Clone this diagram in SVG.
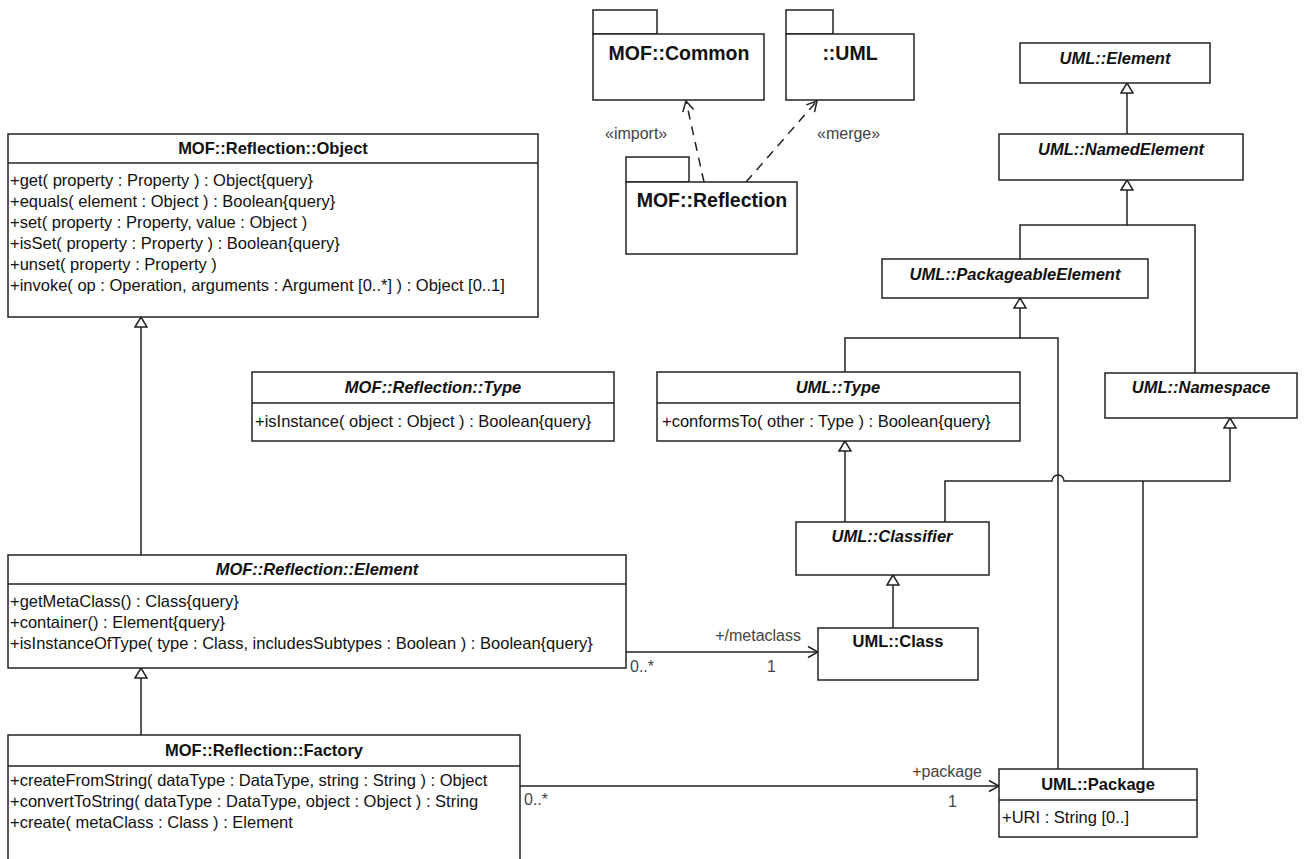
<svg xmlns="http://www.w3.org/2000/svg" width="1305" height="859" viewBox="0 0 1305 859">
<style>
.box{fill:#fff;stroke:#222;stroke-width:1.5}
.t{font-family:"Liberation Sans",Arial,sans-serif;font-size:16.5px;fill:#111}
.ti{font-weight:bold;text-anchor:middle}
.pk{font-family:"Liberation Sans",Arial,sans-serif;font-size:19.5px;font-weight:bold;text-anchor:middle;fill:#111}
.it{font-style:italic}
.lbl{font-family:"Liberation Sans",Arial,sans-serif;font-size:16px;fill:#444}
.conn{fill:none;stroke:#222;stroke-width:1.5}
.dash{stroke-dasharray:9 7}
</style>
<defs>
<marker id="gen" viewBox="0 0 12 14" refX="11" refY="7" markerWidth="12" markerHeight="14" markerUnits="userSpaceOnUse" orient="auto"><path d="M1,1 L11,7 L1,13 Z" fill="#fff" stroke="#222" stroke-width="1.5"/></marker>
<marker id="open" viewBox="0 0 14 14" refX="13" refY="7" markerWidth="14" markerHeight="14" markerUnits="userSpaceOnUse" orient="auto"><path d="M3,1.5 L13,7 L3,12.5" fill="none" stroke="#222" stroke-width="1.5"/></marker>
</defs>

<g id="connectors">
<path class="conn dash" d="M704,182 L686,101" marker-end="url(#open)"/>
<path class="conn dash" d="M746,182 L817,101" marker-end="url(#open)"/>
<path class="conn" d="M1127,134 V83" marker-end="url(#gen)"/>
<path class="conn" d="M1020,259 V225 H1127 V180" marker-end="url(#gen)"/>
<path class="conn" d="M1195,373 V225 H1127"/>
<path class="conn" d="M845,372 V338 H1020 V298" marker-end="url(#gen)"/>
<path class="conn" d="M1058,769 V338 H1020"/>
<path class="conn" d="M845,522 V441" marker-end="url(#gen)"/>
<path class="conn" d="M945,522 V481 H1052 A6,6 0 0 1 1064,481 H1230 V418" marker-end="url(#gen)"/>
<path class="conn" d="M1143,769 V481"/>
<path class="conn" d="M893,628 V575" marker-end="url(#gen)"/>
<path class="conn" d="M141,555 V317" marker-end="url(#gen)"/>
<path class="conn" d="M141,735 V668" marker-end="url(#gen)"/>
<path class="conn" d="M626,652 H818" marker-end="url(#open)"/>
<path class="conn" d="M520,786 H999" marker-end="url(#open)"/>
<text class="lbl" x="605" y="139">«import»</text>
<text class="lbl" x="817" y="139">«merge»</text>
<text class="lbl" x="801" y="641" text-anchor="end">+/metaclass</text>
<text class="lbl" x="767" y="672">1</text>
<text class="lbl" x="630" y="672">0..*</text>
<text class="lbl" x="982" y="777" text-anchor="end">+package</text>
<text class="lbl" x="948" y="807">1</text>
<text class="lbl" x="524" y="805">0..*</text>
</g>

<g id="pkg-common">
<rect class="box" x="593" y="10" width="64" height="24"/>
<rect class="box" x="593" y="34" width="171" height="66"/>
<text class="pk" x="679" y="60">MOF::Common</text>
</g>
<g id="pkg-uml">
<rect class="box" x="786" y="10" width="47" height="24"/>
<rect class="box" x="786" y="34" width="128" height="66"/>
<text class="pk" x="850" y="60">::UML</text>
</g>
<g id="pkg-reflection">
<rect class="box" x="626" y="157" width="63" height="25"/>
<rect class="box" x="626" y="182" width="171" height="72"/>
<text class="pk" x="712" y="207">MOF::Reflection</text>
</g>

<g id="object">
<rect class="box" x="8" y="134" width="530" height="183"/>
<line class="conn" x1="8" y1="163" x2="538" y2="163"/>
<text class="t ti" x="273" y="154">MOF::Reflection::Object</text>
<text class="t" x="10" y="186">+get( property : Property ) : Object{query}</text>
<text class="t" x="10" y="207">+equals( element : Object ) : Boolean{query}</text>
<text class="t" x="10" y="228">+set( property : Property, value : Object )</text>
<text class="t" x="10" y="249">+isSet( property : Property ) : Boolean{query}</text>
<text class="t" x="10" y="270">+unset( property : Property )</text>
<text class="t" x="10" y="291">+invoke( op : Operation, arguments : Argument [0..*] ) : Object [0..1]</text>
</g>

<g id="type">
<rect class="box" x="252" y="372" width="362" height="69"/>
<line class="conn" x1="252" y1="403" x2="614" y2="403"/>
<text class="t ti it" x="433" y="393">MOF::Reflection::Type</text>
<text class="t" x="255" y="427">+isInstance( object : Object ) : Boolean{query}</text>
</g>

<g id="element">
<rect class="box" x="8" y="555" width="618" height="113"/>
<line class="conn" x1="8" y1="584" x2="626" y2="584"/>
<text class="t ti it" x="317" y="575">MOF::Reflection::Element</text>
<text class="t" x="10" y="607">+getMetaClass() : Class{query}</text>
<text class="t" x="10" y="628">+container() : Element{query}</text>
<text class="t" x="10" y="649">+isInstanceOfType( type : Class, includesSubtypes : Boolean ) : Boolean{query}</text>
</g>

<g id="factory">
<rect class="box" x="8" y="735" width="512" height="140"/>
<line class="conn" x1="8" y1="766" x2="520" y2="766"/>
<text class="t ti" x="264" y="756">MOF::Reflection::Factory</text>
<text class="t" x="10" y="786">+createFromString( dataType : DataType, string : String ) : Object</text>
<text class="t" x="10" y="807">+convertToString( dataType : DataType, object : Object ) : String</text>
<text class="t" x="10" y="828">+create( metaClass : Class ) : Element</text>
</g>

<g id="uml-element">
<rect class="box" x="1020" y="43" width="190" height="40"/>
<text class="t ti it" x="1115" y="64">UML::Element</text>
</g>
<g id="uml-namedelement">
<rect class="box" x="999" y="134" width="244" height="46"/>
<text class="t ti it" x="1121" y="155">UML::NamedElement</text>
</g>
<g id="uml-packageableelement">
<rect class="box" x="882" y="259" width="266" height="39"/>
<text class="t ti it" x="1015" y="280">UML::PackageableElement</text>
</g>
<g id="uml-namespace">
<rect class="box" x="1105" y="373" width="192" height="45"/>
<text class="t ti it" x="1201" y="393">UML::Namespace</text>
</g>
<g id="uml-type">
<rect class="box" x="657" y="372" width="363" height="69"/>
<line class="conn" x1="657" y1="403" x2="1020" y2="403"/>
<text class="t ti it" x="838" y="393">UML::Type</text>
<text class="t" x="662" y="427">+conformsTo( other : Type ) : Boolean{query}</text>
</g>
<g id="uml-classifier">
<rect class="box" x="796" y="522" width="193" height="53"/>
<text class="t ti it" x="892" y="542">UML::Classifier</text>
</g>
<g id="uml-class">
<rect class="box" x="818" y="628" width="160" height="52"/>
<text class="t ti" x="898" y="647">UML::Class</text>
</g>
<g id="uml-package">
<rect class="box" x="999" y="769" width="198" height="68"/>
<line class="conn" x1="999" y1="800" x2="1197" y2="800"/>
<text class="t ti" x="1098" y="790">UML::Package</text>
<text class="t" x="1002" y="823">+URI : String [0..]</text>
</g>
</svg>
